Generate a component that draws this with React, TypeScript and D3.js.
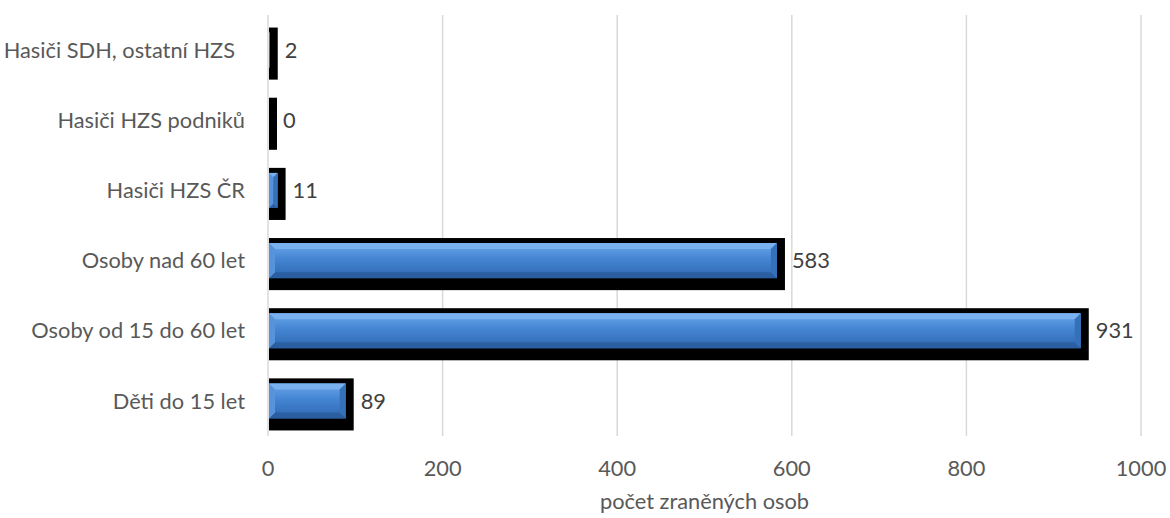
import React from "react";
import * as d3 from "d3";

const categories = [
  "Hasiči SDH, ostatní HZS",
  "Hasiči HZS podniků",
  "Hasiči HZS ČR",
  "Osoby nad 60 let",
  "Osoby od 15 do 60 let",
  "Děti do 15 let",
];
const values = [2, 0, 11, 583, 931, 89];
const ticks = [0, 200, 400, 600, 800, 1000];
const axisTitle = "počet zraněných osob";

const W = 1170;
const H = 518;
const FONT = "Lato, 'Open Sans', sans-serif";
const FS = 21.8;

export default function App() {
  const x = d3.scaleLinear().domain([0, 1000]).range([268, 1141]);
  const y = d3.scaleBand<string>().domain(categories).range([15, 436]).paddingInner(0.5).paddingOuter(0.25);
  const bh = y.bandwidth();

  return (
    <svg width={W} height={H} style={{ position: "absolute", left: 0, top: 0 }} xmlns="http://www.w3.org/2000/svg">
      <defs>
        <linearGradient id="barGrad" x1="0" y1="0" x2="0" y2="1">
          <stop offset="0" stopColor="#6aa6ea" />
          <stop offset="0.45" stopColor="#4485d3" />
          <stop offset="1" stopColor="#2f67b0" />
        </linearGradient>
      </defs>
      <rect x={0} y={0} width={W} height={H} fill="#ffffff" />
      {ticks.map((t) => (
        <line key={"g" + t} x1={x(t)} x2={x(t)} y1={15} y2={436} stroke="#d9d9d9" strokeWidth={1.5} />
      ))}
      {categories.map((c, i) => {
        const v = values[i];
        const y0 = y(c)!;
        const x0 = x(0) + 1;
        const x1 = Math.max(x(v), x0);
        const w = x1 - x0;
        const b = Math.min(6, w / 2, bh / 2);
        return (
          <g key={c}>
            <rect x={x0} y={y0 - 5} width={x1 + 8 - x0} height={bh + 17} fill="#000000" />
            {w > 0 && (
              <g>
                <rect x={x0} y={y0} width={w} height={bh} fill="url(#barGrad)" />
                <polygon points={`${x0},${y0} ${x1},${y0} ${x1 - b},${y0 + b} ${x0 + b},${y0 + b}`} fill="#7cb4f2" opacity={0.85} />
                <polygon points={`${x0},${y0 + bh} ${x1},${y0 + bh} ${x1 - b},${y0 + bh - b} ${x0 + b},${y0 + bh - b}`} fill="#2a5d9f" opacity={0.9} />
                <polygon points={`${x0},${y0} ${x0 + b},${y0 + b} ${x0 + b},${y0 + bh - b} ${x0},${y0 + bh}`} fill="#5793da" />
                <polygon points={`${x1},${y0} ${x1 - b},${y0 + b} ${x1 - b},${y0 + bh - b} ${x1},${y0 + bh}`} fill="#3570b8" />
              </g>
            )}
            <text x={x(v) + 15} y={y0 + bh / 2} dy="0.35em" fontFamily={FONT} fontSize={FS} fill="#404040">
              {v}
            </text>
            <text
              x={i === 0 ? 235 : 245}
              y={y0 + bh / 2}
              dy="0.35em"
              textAnchor="end"
              fontFamily={FONT}
              fontSize={FS}
              fill="#595959"
            >
              {c}
            </text>
          </g>
        );
      })}
      {ticks.map((t) => (
        <text key={"t" + t} x={x(t)} y={468} dy="0.35em" textAnchor="middle" fontFamily={FONT} fontSize={FS} fill="#595959">
          {t}
        </text>
      ))}
      <text x={(x(0) + x(1000)) / 2} y={501} dy="0.35em" textAnchor="middle" fontFamily={FONT} fontSize={FS} fill="#595959">
        {axisTitle}
      </text>
    </svg>
  );
}
